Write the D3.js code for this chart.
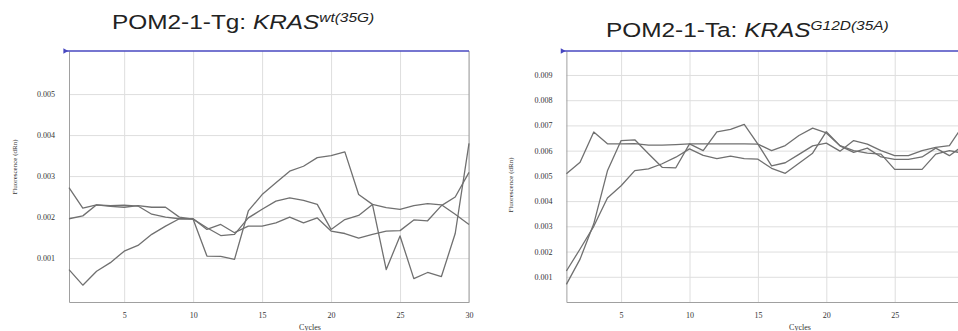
<!DOCTYPE html>
<html>
<head>
<meta charset="utf-8">
<script src="https://cdn.jsdelivr.net/npm/d3@7"></script>
<style>
  body { margin: 0; background: #fff; }
  svg { display: block; }
</style>
</head>
<body>
<svg id="chart" width="958" height="331"></svg>
<script>
const width = 958;
const height = 331;

// Cycle numbers on the x axis.
const cycles = [1, 2, 3, 4, 5, 6, 7, 8, 9, 10, 11, 12, 13, 14, 15,
  16, 17, 18, 19, 20, 21, 22, 23, 24, 25, 26, 27, 28, 29, 30];
const xTicks = [5, 10, 15, 20, 25, 30];

// Left panel: POM2-1-Tg, KRAS wt(35G).
const tgTicks = [0.001, 0.002, 0.003, 0.004, 0.005];
const tgWell1 = [0.00272, 0.00222, 0.00230, 0.00226, 0.00224, 0.00228, 0.00224, 0.00224, 0.00200, 0.00195,
  0.00105, 0.00104, 0.00097, 0.00215, 0.00255, 0.00284, 0.00312, 0.00324, 0.00345, 0.00350,
  0.00359, 0.00255, 0.00231, 0.00223, 0.00219, 0.00228, 0.00233, 0.00230, 0.00207, 0.00182];
const tgWell2 = [0.00196, 0.00203, 0.00230, 0.00228, 0.00229, 0.00227, 0.00207, 0.00200, 0.00196, 0.00195,
  0.00174, 0.00155, 0.00158, 0.00198, 0.00219, 0.00239, 0.00247, 0.00241, 0.00231, 0.00170,
  0.00194, 0.00204, 0.00231, 0.00072, 0.00154, 0.00050, 0.00065, 0.00055, 0.00160, 0.00380];
const tgWell3 = [0.00072, 0.00034, 0.00068, 0.00089, 0.00117, 0.00131, 0.00158, 0.00178, 0.00196, 0.00196,
  0.00170, 0.00182, 0.00162, 0.00178, 0.00178, 0.00186, 0.00200, 0.00186, 0.00198, 0.00166,
  0.00160, 0.00149, 0.00158, 0.00166, 0.00167, 0.00193, 0.00191, 0.00228, 0.00249, 0.00309];

// Right panel: POM2-1-Ta, KRAS G12D(35A).
const taTicks = [0.001, 0.002, 0.003, 0.004, 0.005, 0.006, 0.007, 0.008, 0.009];
const taWell1 = [0.00508, 0.00554, 0.00674, 0.00627, 0.00627, 0.00628, 0.00622, 0.00622, 0.00624, 0.00627,
  0.00627, 0.00627, 0.00627, 0.00627, 0.00626, 0.00540, 0.00552, 0.00585, 0.00619, 0.00630,
  0.00598, 0.00640, 0.00626, 0.00600, 0.00580, 0.00580, 0.00600, 0.00613, 0.00620, 0.00700];
const taWell2 = [0.00070, 0.00170, 0.00310, 0.00520, 0.00640, 0.00643, 0.00588, 0.00534, 0.00532, 0.00627,
  0.00600, 0.00674, 0.00684, 0.00704, 0.00626, 0.00600, 0.00620, 0.00660, 0.00689, 0.00670,
  0.00619, 0.00593, 0.00610, 0.00575, 0.00565, 0.00565, 0.00575, 0.00610, 0.00580, 0.00620];
const taWell3 = [0.00123, 0.00210, 0.00300, 0.00412, 0.00461, 0.00521, 0.00528, 0.00548, 0.00574, 0.00607,
  0.00581, 0.00568, 0.00578, 0.00568, 0.00566, 0.00530, 0.00510, 0.00550, 0.00590, 0.00675,
  0.00620, 0.00600, 0.00590, 0.00586, 0.00526, 0.00526, 0.00526, 0.00586, 0.00600, 0.00590];

const gridGrey = '#dedede';
const axisGrey = '#a0a0a0';
const traceGrey = '#707070';
const labelGrey = '#333';
const thresholdBlue = '#4848c0';

const svg = d3.select('#chart');

/**
 * Draws one amplification plot panel.
 */
function drawPanel(p) {
  const x = d3.scaleLinear().domain([1, 30]).range([p.left, p.right]);
  const y = d3.scaleLinear().domain(p.yDomain).range([302, 51]);
  const g = svg.append('g');

  // Grid lines
  g.append('g')
    .attr('transform', `translate(0, ${y.range()[0]})`)
    .call(d3.axisBottom(x).tickValues(xTicks).tickSize(-(y.range()[0] - y.range()[1])).tickFormat(''))
    .call((s) => s.select('.domain').remove())
    .selectAll('line').attr('stroke', gridGrey);
  g.append('g')
    .attr('transform', `translate(${x(1)}, 0)`)
    .call(d3.axisLeft(y).tickValues(p.yTicks).tickSize(-(x(30) - x(1))).tickFormat(''))
    .call((s) => s.select('.domain').remove())
    .selectAll('line').attr('stroke', gridGrey);

  // Axes
  const xAxis = g.append('g')
    .attr('transform', `translate(0, ${y.range()[0]})`)
    .call(d3.axisBottom(x).tickValues(xTicks).tickSize(0).tickPadding(10));
  const yAxis = g.append('g')
    .attr('transform', `translate(${x(1)}, 0)`)
    .call(d3.axisLeft(y).tickValues(p.yTicks).tickSize(0).tickPadding(14).tickFormat(d3.format('.3f')));
  [xAxis, yAxis].forEach((a) => {
    a.select('.domain').attr('stroke', axisGrey);
    a.selectAll('text')
      .attr('font-family', 'Liberation Serif, serif')
      .attr('font-size', 8)
      .attr('fill', labelGrey);
  });
  // Right border at cycle 30
  g.append('line')
    .attr('x1', x(30)).attr('x2', x(30))
    .attr('y1', y.range()[1]).attr('y2', y.range()[0])
    .attr('stroke', axisGrey);

  // Traces
  const line = d3.line().x((d, i) => x(cycles[i])).y((d) => y(d));
  g.append('g')
    .selectAll('path')
    .data(p.wells)
    .join('path')
    .attr('d', line)
    .attr('fill', 'none')
    .attr('stroke', traceGrey)
    .attr('stroke-width', 1.3)
    .attr('stroke-linejoin', 'round');

  // Threshold line
  g.append('line')
    .attr('x1', x(1) - 5).attr('x2', x(30))
    .attr('y1', y.range()[1]).attr('y2', y.range()[1])
    .attr('stroke', thresholdBlue)
    .attr('stroke-width', 1.6);
  g.append('path')
    .attr('d', d3.symbol(d3.symbolTriangle, 14)())
    .attr('transform', `translate(${x(1) - 4}, ${y.range()[1]}) rotate(90)`)
    .attr('fill', thresholdBlue);

  // Axis titles
  g.append('text')
    .attr('x', p.cyclesX)
    .attr('y', 329.5)
    .attr('text-anchor', 'middle')
    .attr('font-family', 'Liberation Serif, serif')
    .attr('font-size', 8)
    .attr('fill', labelGrey)
    .text('Cycles');
  g.append('text')
    .attr('transform', `translate(${p.yLabelX}, ${p.yLabelY}) rotate(-90)`)
    .attr('text-anchor', 'middle')
    .attr('font-family', 'Liberation Serif, serif')
    .attr('font-size', 7)
    .attr('fill', labelGrey)
    .text('Fluorescence (dRn)');

  // Chart title (the original lettering is a little wider than Arial)
  const title = g.append('text')
    .attr('transform', `translate(${p.titleX}, ${p.titleY}) scale(1.19, 1)`)
    .attr('font-family', 'Liberation Sans, Arial, sans-serif')
    .attr('font-size', 20.5)
    .attr('fill', '#222');
  title.append('tspan').text(p.sample + ': ');
  title.append('tspan').attr('font-style', 'italic').text('KRAS');
  title.append('tspan')
    .attr('font-style', 'italic')
    .attr('font-size', 13)
    .attr('dy', -7.5)
    .text(p.allele);
}

drawPanel({
  left: 69, right: 469,
  yDomain: [-0.00007, 0.00605],
  yTicks: tgTicks,
  wells: [tgWell1, tgWell2, tgWell3],
  cyclesX: 310, yLabelX: 17, yLabelY: 167,
  titleX: 112, titleY: 29, sample: 'POM2-1-Tg', allele: 'wt(35G)',
});

drawPanel({
  left: 566.4, right: 963.1,
  yDomain: [0, 0.00995],
  yTicks: taTicks,
  wells: [taWell1, taWell2, taWell3],
  cyclesX: 800, yLabelX: 513, yLabelY: 185,
  titleX: 606, titleY: 37, sample: 'POM2-1-Ta', allele: 'G12D(35A)',
});
</script>
</body>
</html>
